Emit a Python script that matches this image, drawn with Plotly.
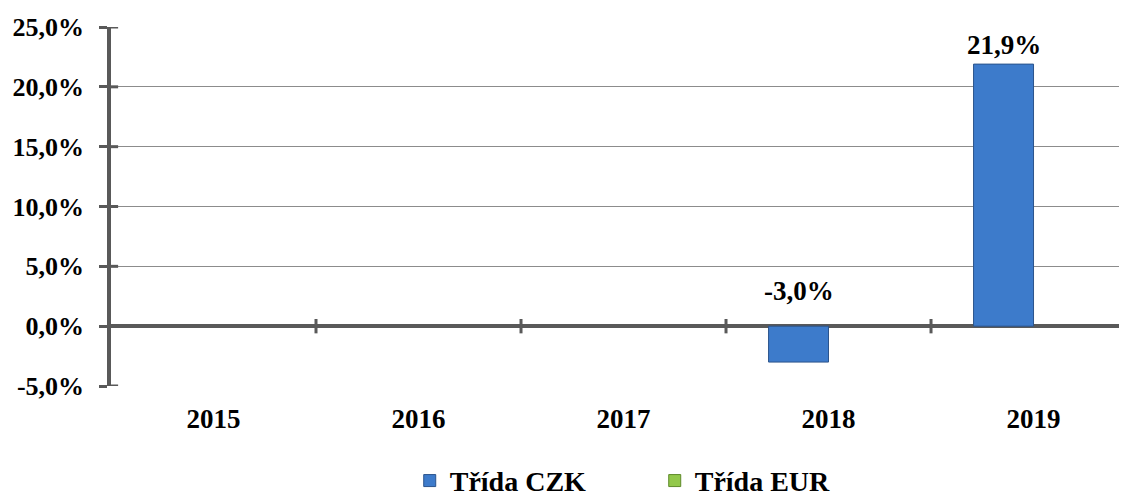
import plotly.graph_objects as go

years = ["2015", "2016", "2017", "2018", "2019"]
czk = [None, None, None, -3.0, 21.9]
eur = [None, None, None, None, None]
y_ticks = [-5, 0, 5, 10, 15, 20, 25]

def fmt(v):
    return f"{v:.1f}".replace(".", ",") + "%"

FONT = "Liberation Serif, Times New Roman, serif"
AXC = "#595959"

fig = go.Figure()
fig.add_trace(go.Bar(name="Třída CZK", x=years, y=czk,
                     marker=dict(color="#3D7BCB", line=dict(color="#2B548C", width=1))))
fig.add_trace(go.Bar(name="Třída EUR", x=years, y=eur,
                     marker=dict(color="#92C84A", line=dict(color="#5E8A2A", width=1))))

bargap = 0.415
half = (1 - bargap) / 4  # offset of first bar center from category center

for i, v in enumerate(czk):
    if v is None:
        continue
    fig.add_annotation(x=i - half, y=max(v, 0), xref="x", yref="y", text=fmt(v),
                       showarrow=False, yanchor="bottom",
                       yshift=2 if v >= 0 else 18,
                       font=dict(family=FONT, size=27, color="black", weight="bold"))

# cross tick marks on the zero line between categories
for i in range(len(years) - 1):
    fig.add_shape(type="line", xref="x", yref="y", x0=i + 0.5, x1=i + 0.5, y0=-0.6, y1=0.6,
                  line=dict(color=AXC, width=3))
# inner part of y ticks
for t in y_ticks:
    fig.add_shape(type="line", xref="paper", yref="y", x0=0, x1=0.007, y0=t, y1=t,
                  line=dict(color=AXC, width=3))

fig.update_layout(
    width=1119, height=489,
    margin=dict(l=103, r=0, t=19, b=111),
    plot_bgcolor="white", paper_bgcolor="white",
    barmode="group", bargap=bargap, bargroupgap=0,
    showlegend=True,
    legend=dict(orientation="h", xref="container", yref="container",
                x=0.359, xanchor="left", y=0.033, yanchor="middle",
                font=dict(family=FONT, size=28, color="black", weight="bold"),
                itemwidth=30, tracegroupgap=0, entrywidth=200, entrywidthmode="pixels"),
    xaxis=dict(range=[-0.5, 4.456], showgrid=False, showline=False, ticks="",
               tickfont=dict(family=FONT, size=27, color="black", weight="bold"),
               ticklabelstandoff=14, zeroline=False, automargin=False),
    yaxis=dict(range=[-5, 25], tickvals=y_ticks, ticktext=[fmt(t) for t in y_ticks],
               showgrid=True, gridcolor="#8C8C8C", gridwidth=1,
               zeroline=True, zerolinecolor=AXC, zerolinewidth=3.5,
               showline=True, linecolor=AXC, linewidth=3.5,
               ticks="outside", ticklen=8, tickwidth=3, tickcolor=AXC,
               tickfont=dict(family=FONT, size=26, color="black", weight="bold"),
               ticklabelstandoff=10, automargin=False),
)

fig.write_html("out.html")
